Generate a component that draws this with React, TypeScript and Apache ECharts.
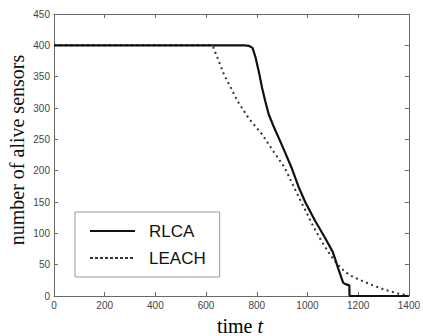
import React, { useEffect, useRef } from "react";
import * as echarts from "echarts";

const rlcaT = [0, 750, 770, 783, 795, 808, 821, 834, 847, 867, 900, 939, 965, 991, 1030, 1069, 1100, 1110, 1121, 1134, 1141, 1150, 1165, 1166, 1400];
const rlcaV = [400, 400, 399, 396, 381, 358, 332, 310, 290, 270, 240, 203, 174, 150, 120, 93, 70, 58, 44, 29, 21, 19, 17, 0, 0];

const leachT = [0, 620, 628, 645, 671, 698, 724, 750, 769, 821, 867, 910, 945, 984, 1023, 1056, 1089, 1115, 1147, 1173, 1199, 1252, 1304, 1356, 1382, 1392];
const leachV = [400, 400, 397, 380, 353, 332, 311, 295, 283, 258, 230, 205, 175, 143, 111, 87, 66, 52, 39, 32, 27, 18, 10, 4, 2, 0];

const seriesNames = ["RLCA", "LEACH"];
const xTicks = { min: 0, max: 1400, interval: 200 };
const yTicks = { min: 0, max: 450, interval: 50 };

const pair = (ts: number[], vs: number[]) => ts.map((t, i) => [t, vs[i]]);

export default function App() {
  const ref = useRef<HTMLDivElement>(null);
  useEffect(() => {
    if (!ref.current) return;
    const chart = echarts.init(ref.current, undefined, { renderer: "svg" });
    const frame = "#6a6a6a";
    const labelStyle = {
      color: "#444",
      fontFamily: "Liberation Sans, Arial, sans-serif",
      fontSize: 10,
      formatter: (v: number) => String(v),
    };
    const mkX = (pos: "bottom" | "top", show: boolean) => ({
      type: "value",
      position: pos,
      ...xTicks,
      axisLine: { show: true, onZero: false, lineStyle: { color: frame, width: 1 } },
      axisTick: { show: true, inside: true, length: 4, lineStyle: { color: frame } },
      axisLabel: { show, ...labelStyle, margin: 4 },
      splitLine: { show: false },
    });
    const mkY = (pos: "left" | "right", show: boolean) => ({
      type: "value",
      position: pos,
      ...yTicks,
      axisLine: { show: true, onZero: false, lineStyle: { color: frame, width: 1 } },
      axisTick: { show: true, inside: true, length: 4, lineStyle: { color: frame } },
      axisLabel: { show, ...labelStyle, margin: 4 },
      splitLine: { show: false },
    });
    chart.setOption({
      animation: false,
      backgroundColor: "#fff",
      grid: { left: 54, right: 11, top: 14, bottom: 40, containLabel: false },
      xAxis: [mkX("bottom", true), mkX("top", false)],
      yAxis: [mkY("left", true), mkY("right", false)],
      legend: {
        orient: "vertical",
        left: 75,
        top: 212,
        padding: [9, 14, 9, 14],
        itemGap: 7,
        itemWidth: 45,
        itemHeight: 14,
        borderColor: "#999",
        borderWidth: 1,
        backgroundColor: "#fff",
        itemStyle: { opacity: 0 },
        textStyle: {
          fontFamily: "Liberation Sans, Arial, sans-serif",
          fontSize: 17,
          lineHeight: 20,
          color: "#111",
          padding: [0, 0, 0, 9],
        },
        data: [
          { name: seriesNames[0], itemStyle: { opacity: 0 }, lineStyle: { color: "#111", width: 2, type: "solid" } },
          { name: seriesNames[1], itemStyle: { opacity: 0 }, lineStyle: { color: "#333", width: 2, type: [3, 2] } },
        ],
      },
      graphic: [
        {
          type: "text",
          x: 17,
          y: 150,
          rotation: Math.PI / 2,
          style: {
            text: "number of alive sensors",
            font: '20px "Liberation Serif", "Times New Roman", serif',
            fill: "#111",
            align: "center",
            verticalAlign: "middle",
          },
        },
        {
          type: "text",
          x: 240,
          y: 326,
          style: {
            text: "{a|time }{b|t}",
            align: "center",
            verticalAlign: "middle",
            rich: {
              a: { fontFamily: '"Liberation Serif", serif', fontSize: 20, color: "#111" },
              b: { fontFamily: '"Liberation Serif", serif', fontSize: 20, fontStyle: "italic", color: "#111" },
            },
          },
        },
      ],
      series: [
        {
          name: seriesNames[0],
          type: "line",
          xAxisIndex: 0,
          yAxisIndex: 0,
          data: pair(rlcaT, rlcaV),
          showSymbol: false,
          symbol: "none",
          lineStyle: { color: "#111", width: 2.2 },
          itemStyle: { color: "#111" },
          z: 3,
        },
        {
          name: seriesNames[1],
          type: "line",
          xAxisIndex: 0,
          yAxisIndex: 0,
          data: pair(leachT, leachV),
          showSymbol: false,
          symbol: "none",
          lineStyle: { color: "#333", width: 2, type: [2, 3.5] },
          itemStyle: { color: "#333" },
          z: 2,
        },
      ],
    });
    return () => chart.dispose();
  }, []);
  return <div ref={ref} style={{ width: 423, height: 336, position: "absolute", left: 0, top: 0 }} />;
}
